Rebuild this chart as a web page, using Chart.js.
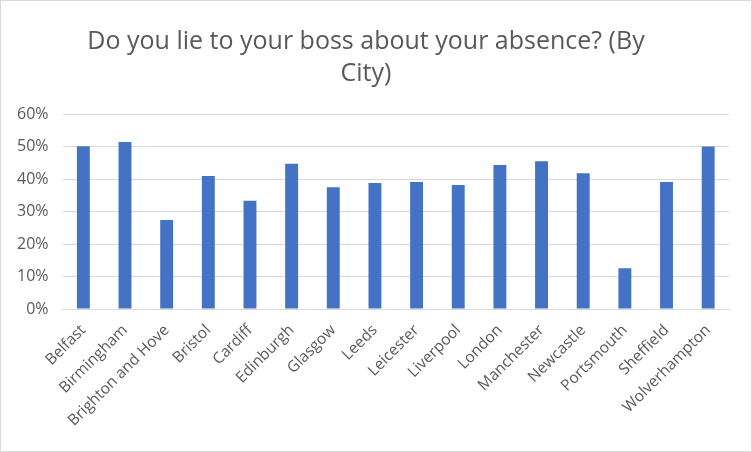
<!DOCTYPE html>
<html>
<head>
<meta charset="utf-8">
<script src="https://cdn.jsdelivr.net/npm/chart.js@4"></script>
<style>
  html, body { margin: 0; padding: 0; background: #fff; }
  #wrap { position: relative; width: 750px; height: 450px; border: 1px solid #d9d9d9; }
</style>
</head>
<body>
<div id="wrap"><canvas id="myChart"></canvas></div>
<script>
const cities = ['Belfast', 'Birmingham', 'Brighton and Hove', 'Bristol', 'Cardiff', 'Edinburgh', 'Glasgow', 'Leeds',
  'Leicester', 'Liverpool', 'London', 'Manchester', 'Newcastle', 'Portsmouth', 'Sheffield', 'Wolverhampton'];
const lieShare = [50.1, 51.4, 27.4, 40.9, 33.3, 44.7, 37.5, 38.8, 39.1, 38.2, 44.3, 45.5, 41.8, 12.6, 39.1, 50.0];
const yTicks = [0, 10, 20, 30, 40, 50, 60];

const grey = '#595959';
const ctx = document.getElementById('myChart');

new Chart(ctx, {
  type: 'bar',
  data: {
    labels: cities,
    datasets: [{
      data: lieShare,
      backgroundColor: '#4472c4',
      barPercentage: 0.31,
      categoryPercentage: 1
    }]
  },
  options: {
    responsive: true,
    maintainAspectRatio: false,
    animation: false,
    layout: { padding: { left: 2, right: 22, top: 8, bottom: 17 } },
    plugins: {
      legend: { display: false },
      tooltip: { enabled: false },
      title: {
        display: true,
        text: ['Do you lie to your boss about your absence? (By', 'City)'],
        color: grey,
        font: { family: 'Open Sans', size: 25, weight: 'normal', lineHeight: 1.28 },
        padding: { top: 17, bottom: 24 }
      }
    },
    scales: {
      y: {
        min: 0,
        max: 60,
        afterBuildTicks: axis => { axis.ticks = yTicks.map(v => ({ value: v })); },
        border: { display: false },
        grid: { color: '#d9d9d9', lineWidth: 1, drawTicks: false },
        ticks: {
          color: grey,
          padding: 14,
          font: { family: 'Open Sans', size: 16 },
          callback: v => v + '%'
        }
      },
      x: {
        grid: { display: false },
        border: { color: '#d9d9d9' },
        ticks: {
          color: grey,
          minRotation: 45,
          maxRotation: 45,
          autoSkip: false,
          padding: 4,
          font: { family: 'Open Sans', size: 15.5 }
        }
      }
    }
  }
});
</script>
</body>
</html>
